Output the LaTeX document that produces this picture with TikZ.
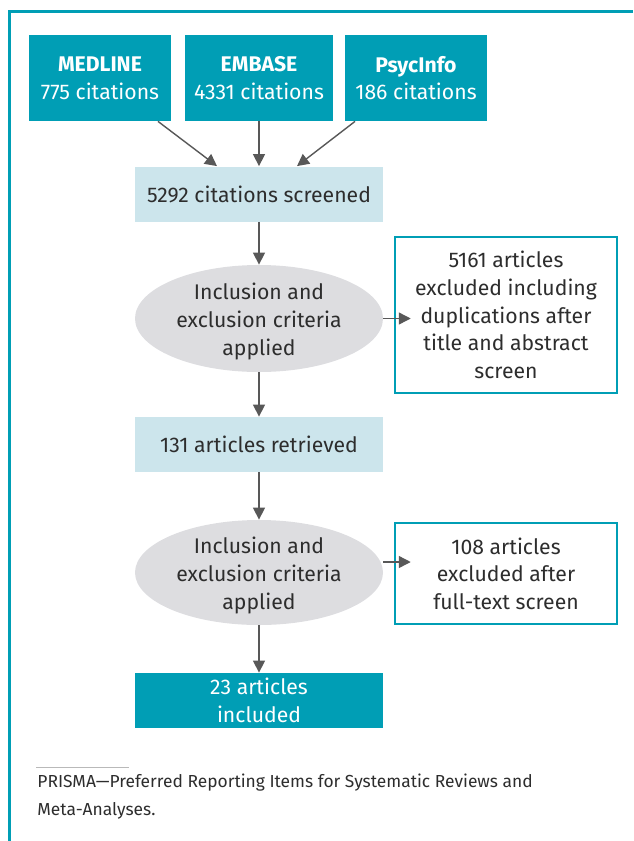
\documentclass[tikz,border=0pt]{standalone}
\usepackage{fontspec}
\setmainfont{Fira Sans}
\usetikzlibrary{shapes.geometric,arrows.meta,calc}
\definecolor{tealbox}{RGB}{0,158,181}
\definecolor{paleblue}{RGB}{204,229,236}
\definecolor{palegray}{RGB}{221,221,224}
\definecolor{arrowgray}{RGB}{88,88,88}
\definecolor{textgray}{RGB}{45,45,45}
\begin{document}
\begin{tikzpicture}[x=0.5pt,y=-0.5pt,font=\fontsize{10.6}{13.8}\selectfont,
	db_node/.style={rectangle,fill=tealbox,text=white,align=center,minimum height=43pt,inner sep=0pt},
	step_node/.style={rectangle,fill=paleblue,text=textgray,minimum width=124pt,minimum height=27.5pt,inner sep=0pt},
	crit_node/.style={ellipse,fill=palegray,minimum width=124pt,minimum height=53.5pt,inner sep=0pt},
	txt_node/.style={align=center,text=textgray,inner sep=0pt,yshift=-1.5pt},
	excl_node/.style={rectangle,draw=tealbox,line width=1.25pt,fill=white,text=textgray,align=center,minimum width=111pt,inner sep=0pt},
	arr/.style={draw=arrowgray,line width=0.7pt,-{Triangle[length=6pt,width=6pt]}}]
		
		\useasboundingbox (0,0) rectangle (633,841);
		\draw[tealbox,line width=1.5pt] (633,11) -- (9,11) -- (9,841);
		
		\node[db_node,minimum width=71pt] (medline) at (100,78) {\textbf{MEDLINE}\\775 citations};
		\node[db_node,minimum width=74pt] (embase) at (259,78) {\textbf{EMBASE}\\4331 citations};
		\node[db_node,minimum width=71pt] (psycinfo) at (416,78) {\textbf{PsycInfo}\\186 citations};
		
		\node[step_node] (screened) at (259,194) {5292 citations screened};
		\node[crit_node] (crit1) at (259,318.5) {};
		\node[txt_node] (crit1txt) at (crit1) {Inclusion and\\exclusion criteria\\applied};
		\node[excl_node,minimum height=78pt] (excl1) at (506,315) {5161 articles\\excluded including\\duplications after\\title and abstract\\screen};
		
		\node[step_node] (retrieved) at (259,444.5) {131 articles retrieved};
		\node[crit_node,minimum height=52.5pt] (crit2) at (259,572.5) {};
		\node[txt_node] (crit2txt) at (crit2) {Inclusion and\\exclusion criteria\\applied};
		\node[excl_node,minimum height=50.5pt] (excl2) at (506,573.5) {108 articles\\excluded after\\full-text screen};
		
		\node[db_node,minimum width=124pt,minimum height=27.5pt] (included) at (259,700.5) {23 articles\\included};
		
		\draw[arr] ($(medline.south)+(58,0)$) -- ($(screened.north)+(-42,0)$);
		\draw[arr] (embase.south) -- (screened.north);
		\draw[arr] ($(psycinfo.south)+(-61,0)$) -- ($(screened.north)+(38,0)$);
		\draw[arr] (screened) -- (crit1);
		\draw[arr,shorten >=-8.5pt] (crit1.east) -- (crit1.east -| excl1.west);
		\draw[arr] (crit1) -- (retrieved);
		\draw[arr] (retrieved) -- (crit2);
		\draw[arr,shorten >=-8.5pt] ([yshift=5.25pt]crit2.east) -- ([yshift=5.25pt]crit2.east -| excl2.west);
		\draw[arr] (crit2) -- (included);
		
		\draw[gray!55,line width=0.5pt] (36,767) -- (129,767);
		\node[anchor=west,align=left,text=textgray,inner sep=0pt,font=\fontsize{8.7}{14}\selectfont] (note) at (37,797) {PRISMA—Preferred Reporting Items for Systematic Reviews and\\Meta-Analyses.};
		\end{tikzpicture}
\end{document}
